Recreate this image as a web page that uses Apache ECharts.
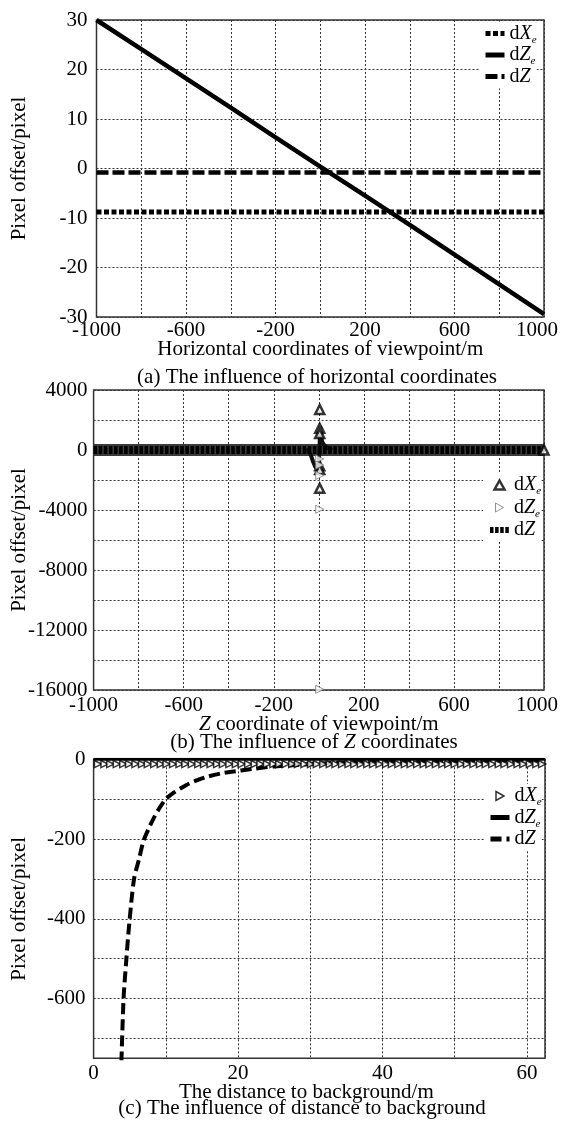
<!DOCTYPE html>
<html><head><meta charset="utf-8">
<script src="https://cdn.jsdelivr.net/npm/echarts@6/dist/echarts.min.js"></script>
<style>html,body{margin:0;padding:0;background:#fff}#c{width:561px;height:1121px}</style>
</head><body><div id="c"></div>
<script>
// ---------- Panel (a): influence of horizontal coordinates ----------
const aX   = [-1000, -800, -600, -400, -200, 0, 200, 400, 600, 800, 1000];
const aDXe = [-8.8, -8.8, -8.8, -8.8, -8.8, -8.8, -8.8, -8.8, -8.8, -8.8, -8.8];
const aDZe = [30, 24.1, 18.2, 12.3, 6.3, 0.4, -5.5, -11.4, -17.4, -23.4, -29.4];
const aDZ  = [-0.8, -0.8, -0.8, -0.8, -0.8, -0.8, -0.8, -0.8, -0.8, -0.8, -0.8];

// ---------- Panel (b): influence of Z coordinates ----------
const bLineX = [-1000, 1000];
const bDZ    = [0, 0];
const bBandX = [-1000, -500, -60, 60, 500, 1000];
const bBand  = [0, 0, 0, 0, 0, 0];
const bBlobX = [-60, -47, -35, -25, -15, -5, 0, 3, 6, 10, 15, 25, 42, 60];
const bBlob  = [0, -50, -350, -800, -1150, -1200, -800, 0, 1550, 900, 550, 300, 100, 0];
const bXeSpikeX = [4, 4, 4, 4, 4, 4, 1000];
const bXeSpike  = [2700, 1450, 1100, -1050, -1300, -2550, 0];
const bZeSpikeX = [4, 4, 4, 4, 4];
const bZeSpike  = [-600, -1000, -1700, -3950, -15950];

// ---------- Panel (c): influence of distance to background ----------
const cXeD = [0.6,1.5,2.3,3.2,4.1,4.9,5.8,6.7,7.5,8.4,9.3,10.1,11,11.9,12.7,13.6,14.5,15.3,16.2,17.1,17.9,18.8,19.7,20.5,21.4,22.3,23.1,24,24.9,25.7,26.6,27.5,28.3,29.2,30.1,30.9,31.8,32.7,33.5,34.4,35.3,36.1,37,37.9,38.7,39.6,40.5,41.3,42.2,43.1,43.9,44.8,45.7,46.5,47.4,48.3,49.1,50,50.9,51.7,52.6,53.5,54.3,55.2,56.1,56.9,57.8,58.7,59.5,60.4,61.3,62.1];
const cXe  = [-12,-12,-12,-12,-12,-12,-12,-12,-12,-12,-12,-12,-12,-12,-12,-12,-12,-12,-12,-12,-12,-12,-12,-12,-12,-12,-12,-12,-12,-12,-12,-12,-12,-12,-12,-12,-12,-12,-12,-12,-12,-12,-12,-12,-12,-12,-12,-12,-12,-12,-12,-12,-12,-12,-12,-12,-12,-12,-12,-12,-12,-12,-12,-12,-12,-12,-12,-12,-12,-12,-12,-12];
const cZeD = [0, 62.5];
const cZe  = [0, 0];
const cZD  = [3.85, 4.15, 4.5, 4.9, 5.6, 6.3, 6.9, 7.6, 8.4, 9.2, 10, 11, 12.8, 14, 15.7, 18, 20, 22, 25, 30, 35, 40, 45, 50, 56, 62.5];
const cZ   = [-760, -600, -510, -420, -300, -250, -205, -175, -145, -120, -100, -85, -65, -55, -44, -34, -29, -24, -18, -12, -8, -6, -5, -4, -3.5, -3];

// ---------- text ----------
const captions = ['(a) The influence of horizontal coordinates',
                  '(b) The influence of {i|Z} coordinates',
                  '(c) The influence of distance to background'];
const xNames = ['Horizontal coordinates of viewpoint/m',
                '{i|Z} coordinate of viewpoint/m',
                'The distance to background/m'];
const yName = 'Pixel offset/pixel';
const legendText = {dXe: '{n|d}{i|X}{s|e}', dZe: '{n|d}{i|Z}{s|e}', dZ: '{n|d}{i|Z}'};

const FONT = "'Liberation Serif','Times New Roman',serif";
const FS = 21;
const pairs = (xs, ys) => xs.map((x, i) => [x, ys[i]]);
const gridLine = {show: true, lineStyle: {color: '#333', width: 1, type: [2, 2]}};
const txt = {fontFamily: FONT, fontSize: FS, color: '#000'};
const rich = {
  n: {fontFamily: FONT, fontSize: 20, color: '#000'},
  i: {fontFamily: FONT, fontSize: 20, color: '#000', fontStyle: 'italic'},
  s: {fontFamily: FONT, fontSize: 11, color: '#000', fontStyle: 'italic', padding: [13, 0, 0, 0]}
};
const noMark = {itemStyle: {color: 'rgba(0,0,0,0)', borderColor: 'rgba(0,0,0,0)', borderWidth: 0}};
const TRI_UP = 'path://M5,0L10,9L0,9Z';
const TRI_RIGHT = 'path://M0,0L8,4.5L0,9Z';
// x labels every 400 from -1000; the last label sits a little left of its tick
const xLabelAB = v => ((v + 1000) % 400 !== 0 ? '' : (v === 1000 ? '{r|' + v + '}' : String(v)));

function xAxis(gi, min, max, interval, labelFn, name, nameGap, margin, namePad) {
  return {gridIndex: gi, type: 'value', min, max, interval,
    axisLine: {show: false}, axisTick: {show: false}, splitLine: gridLine,
    axisLabel: Object.assign({formatter: labelFn, margin, showMinLabel: true, showMaxLabel: true, hideOverlap: false,
      rich: {r: {fontFamily: FONT, fontSize: FS, color: '#000', padding: [0, 14, 0, 0]}}}, txt),
    name, nameLocation: 'middle', nameGap, nameMoveOverlap: false,
    nameTextStyle: Object.assign({rich: {i: {fontFamily: FONT, fontSize: FS, fontStyle: 'italic', color: '#000'}}, padding: namePad || 0}, txt)};
}
function yAxis(gi, min, max, interval, labelFn, nameGap, margin, split) {
  return {gridIndex: gi, type: 'value', min, max, interval,
    axisLine: {show: false}, axisTick: {show: false}, splitLine: split || gridLine,
    axisLabel: Object.assign({formatter: labelFn, margin, showMinLabel: true, showMaxLabel: true, hideOverlap: false}, txt),
    name: yName, nameLocation: 'middle', nameGap, nameMoveOverlap: false, nameTextStyle: txt};
}
function legend(prefix, left, top, gap, items) {
  return {
    data: ['dXe', 'dZe', 'dZ'].map(k => Object.assign({name: prefix + k}, items[k] || {})),
    orient: 'vertical', left, top, padding: [2, 0, 2, 4], itemWidth: 19, itemHeight: 9, itemGap: gap,
    backgroundColor: '#fff', selectedMode: false, symbolKeepAspect: true,
    formatter: n => legendText[n.slice(2)],
    textStyle: {rich}, lineStyle: {width: 5}
  };
}
const gridBase = {show: true, borderColor: '#333', borderWidth: 1.5, containLabel: false, outerBoundsMode: 'none'};

const option = {
  animation: false,
  grid: [
    Object.assign({left: 96.5, top: 20, width: 447.5, height: 297}, gridBase),
    Object.assign({left: 93.6, top: 390, width: 450.4, height: 300}, gridBase),
    Object.assign({left: 93.6, top: 759.3, width: 451.4, height: 299}, gridBase)
  ],
  xAxis: [
    xAxis(0, -1000, 1000, 200, xLabelAB, xNames[0], 21.5, 3),
    xAxis(1, -1000, 1000, 200, xLabelAB, xNames[1], 23.5, 5),
    xAxis(2, 0, 62.5, 10, v => (v % 20 === 0 ? String(v) : ''), xNames[2], 23.5, 5, [0, 26, 0, 0])
  ],
  yAxis: [
    yAxis(0, -30, 30, 10, v => String(v), 67, 9),
    yAxis(1, -16000, 4000, 2000, v => (v % 4000 === 0 ? String(v) : ''), 64, 6),
    yAxis(2, -750, 0, 50, v => (v % 200 === 0 ? String(v) : ''), 64, 8,
      {show: true, lineStyle: {color: ['rgba(0,0,0,0)', '#333'], width: 1, type: [2, 2]}})
  ],
  legend: [
    legend('a_', 479, 21.5, -0.5, {dXe: noMark, dZe: noMark, dZ: noMark}),
    legend('b_', 483, 473, 0.5, {
      dXe: {icon: TRI_UP, itemStyle: {borderWidth: 2.5}},
      dZe: {icon: TRI_RIGHT, itemStyle: {borderWidth: 1}},
      dZ: Object.assign({lineStyle: {width: 6}}, noMark)}),
    legend('c_', 484, 784, -0.5, {
      dXe: {icon: TRI_RIGHT, itemStyle: {borderWidth: 1.5}},
      dZe: noMark, dZ: noMark})
  ],
  graphic: [
    {type: 'text', x: 317, y: 377, style: {text: captions[0], fontFamily: FONT, fontSize: FS, fill: '#000', align: 'center', verticalAlign: 'middle'}},
    {type: 'text', x: 314, y: 742, style: {text: captions[1], fontFamily: FONT, fontSize: FS, fill: '#000', align: 'center', verticalAlign: 'middle', rich: {i: {fontFamily: FONT, fontSize: FS, fontStyle: 'italic', fill: '#000'}}}},
    {type: 'text', x: 302, y: 1108, style: {text: captions[2], fontFamily: FONT, fontSize: FS, fill: '#000', align: 'center', verticalAlign: 'middle'}}
  ],
  series: [
    // (a)
    {name: 'a_dXe', type: 'line', xAxisIndex: 0, yAxisIndex: 0, symbol: 'none', silent: true,
     data: pairs(aX, aDXe), lineStyle: {color: '#000', width: 5, type: [5, 2.5]}, itemStyle: {color: '#000'}},
    {name: 'a_dZe', type: 'line', xAxisIndex: 0, yAxisIndex: 0, symbol: 'none', silent: true,
     data: pairs(aX, aDZe), lineStyle: {color: '#000', width: 4.5}, itemStyle: {color: '#000'}},
    {name: 'a_dZ', type: 'line', xAxisIndex: 0, yAxisIndex: 0, symbol: 'none', silent: true,
     data: pairs(aX, aDZ), lineStyle: {color: '#000', width: 4.5, type: [12, 4]}, itemStyle: {color: '#000'}},
    // (b)
    {name: 'b_band', type: 'line', xAxisIndex: 1, yAxisIndex: 1, symbol: 'none', silent: true, z: 1,
     data: pairs(bBandX, bBand), lineStyle: {color: '#3a3a3a', width: 12}},
    {name: 'b_blob', type: 'line', xAxisIndex: 1, yAxisIndex: 1, symbol: 'none', silent: true, z: 1,
     data: pairs(bBlobX, bBlob), lineStyle: {color: '#111', width: 4}},
    {name: 'b_dZ', type: 'line', xAxisIndex: 1, yAxisIndex: 1, symbol: 'none', silent: true, z: 2,
     data: pairs(bLineX, bDZ), lineStyle: {color: '#000', width: 8, type: [3.5, 1.6]}, itemStyle: {color: '#000'}},
    {name: 'b_dXe', type: 'scatter', xAxisIndex: 1, yAxisIndex: 1, symbol: 'triangle', symbolSize: 9, silent: true, z: 3,
     data: pairs(bXeSpikeX, bXeSpike), itemStyle: {color: '#fff', borderColor: '#000', borderWidth: 2.5}},
    {name: 'b_dZe', type: 'scatter', xAxisIndex: 1, yAxisIndex: 1, symbol: 'triangle', symbolRotate: -90, symbolSize: 8, silent: true, z: 3,
     data: pairs(bZeSpikeX, bZeSpike), itemStyle: {color: '#fff', borderColor: '#777', borderWidth: 1}},
    // (c)
    {name: 'c_dXe', type: 'scatter', xAxisIndex: 2, yAxisIndex: 2, symbol: 'triangle', symbolRotate: -90, symbolSize: 7, silent: true, z: 3,
     data: pairs(cXeD, cXe), itemStyle: {color: '#fff', borderColor: '#000', borderWidth: 1.5}},
    {name: 'c_dZe', type: 'line', xAxisIndex: 2, yAxisIndex: 2, symbol: 'none', silent: true, z: 2,
     data: pairs(cZeD, cZe), lineStyle: {color: '#000', width: 3}, itemStyle: {color: '#000'}},
    {name: 'c_dZ', type: 'line', xAxisIndex: 2, yAxisIndex: 2, symbol: 'none', silent: true, z: 2, smooth: 0.3,
     data: pairs(cZD, cZ), lineStyle: {color: '#000', width: 4, type: [11, 5]}, itemStyle: {color: '#000'}}
  ]
};
const chart = echarts.init(document.getElementById('c'), null, {renderer: 'canvas'});
chart.setOption(option);
</script></body></html>
